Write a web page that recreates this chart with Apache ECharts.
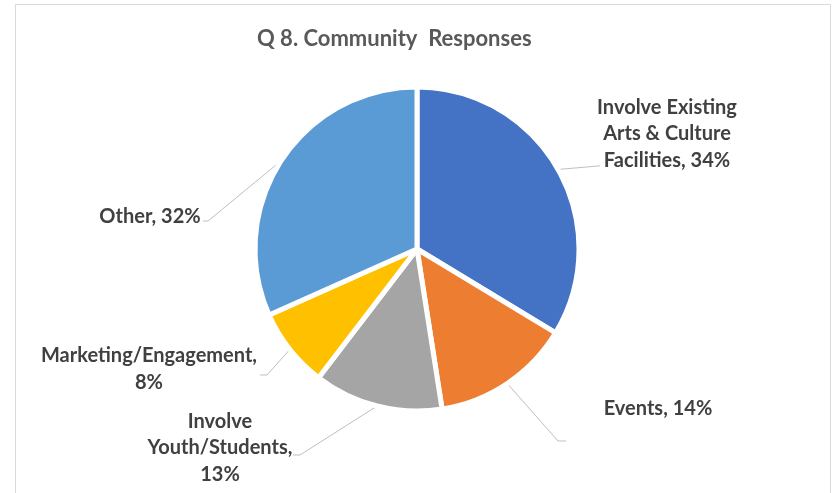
<!DOCTYPE html>
<html>
<head>
<meta charset="utf-8">
<script src="https://cdn.jsdelivr.net/npm/echarts@6/dist/echarts.min.js"></script>
<style>
  html, body { margin: 0; padding: 0; background: #fff; }
  #chart { width: 835px; height: 493px; }
</style>
</head>
<body>
<div id="chart"></div>
<script>
// slices, clockwise from 12 o'clock
const categories = ['Involve Existing\nArts & Culture\nFacilities', 'Events', 'Involve\nYouth/Students', 'Marketing/Engagement', 'Other'];
const shares = [34, 14, 13, 8, 32];
const labelSep = [', ', ', ', ',\n', ',\n', ', '];
const colors = ['#4472c4', '#ed7d31', '#a5a5a5', '#ffc000', '#5b9bd5'];

// where Excel put each data label (centre of the text block)
const labelSpots = [[667, 134], [658, 409], [220, 448], [149, 369], [150, 217]];
// leader lines: elbow point and end of the short tail
const leaderBends = [[598, 166], [558, 441], [300, 455], [267, 375], [208, 221]];
const leaderTails = [[600, 166], [566, 441], [293, 455], [260, 375], [203, 221]];

const myChart = echarts.init(document.getElementById('chart'));

const option = {
    animation: false,
    backgroundColor: '#fff',
    color: colors,
    graphic: [{
        type: 'rect',
        shape: { x: 15.5, y: 4.5, width: 815, height: 520 },
        style: { fill: 'none', stroke: '#d9d9d9', lineWidth: 1 },
        silent: true
    }],
    title: {
        text: 'Q 8. Community  Responses',
        left: 252,
        top: 23,
        textStyle: {
            fontFamily: 'Lato',
            fontSize: 22,
            fontWeight: 'bold',
            color: '#595959'
        }
    },
    series: [{
        type: 'pie',
        center: [417, 249],
        radius: 162,
        startAngle: 90,
        clockwise: true,
        itemStyle: { borderColor: '#fff', borderWidth: 5 },
        label: {
            show: true,
            position: 'outside',
            fontFamily: 'Lato',
            fontSize: 20,
            fontWeight: 'bold',
            color: '#404040',
            lineHeight: 26.5,
            align: 'center',
            formatter: function (p) {
                return p.name + labelSep[p.dataIndex] + p.value + '%';
            }
        },
        labelLine: {
            show: true,
            length: 10,
            length2: 8,
            lineStyle: { color: '#bfbfbf', width: 1 }
        },
        labelLayout: function (p) {
            const i = p.dataIndex;
            const s = labelSpots[i];
            const out = {
                x: s[0],
                y: s[1],
                align: 'center',
                verticalAlign: 'middle'
            };
            if (p.labelLinePoints) {
                out.labelLinePoints = [p.labelLinePoints[0], leaderBends[i], leaderTails[i]];
            }
            return out;
        },
        data: categories.map(function (c, i) {
            return { name: c, value: shares[i] };
        })
    }]
};

myChart.setOption(option);
</script>
</body>
</html>
